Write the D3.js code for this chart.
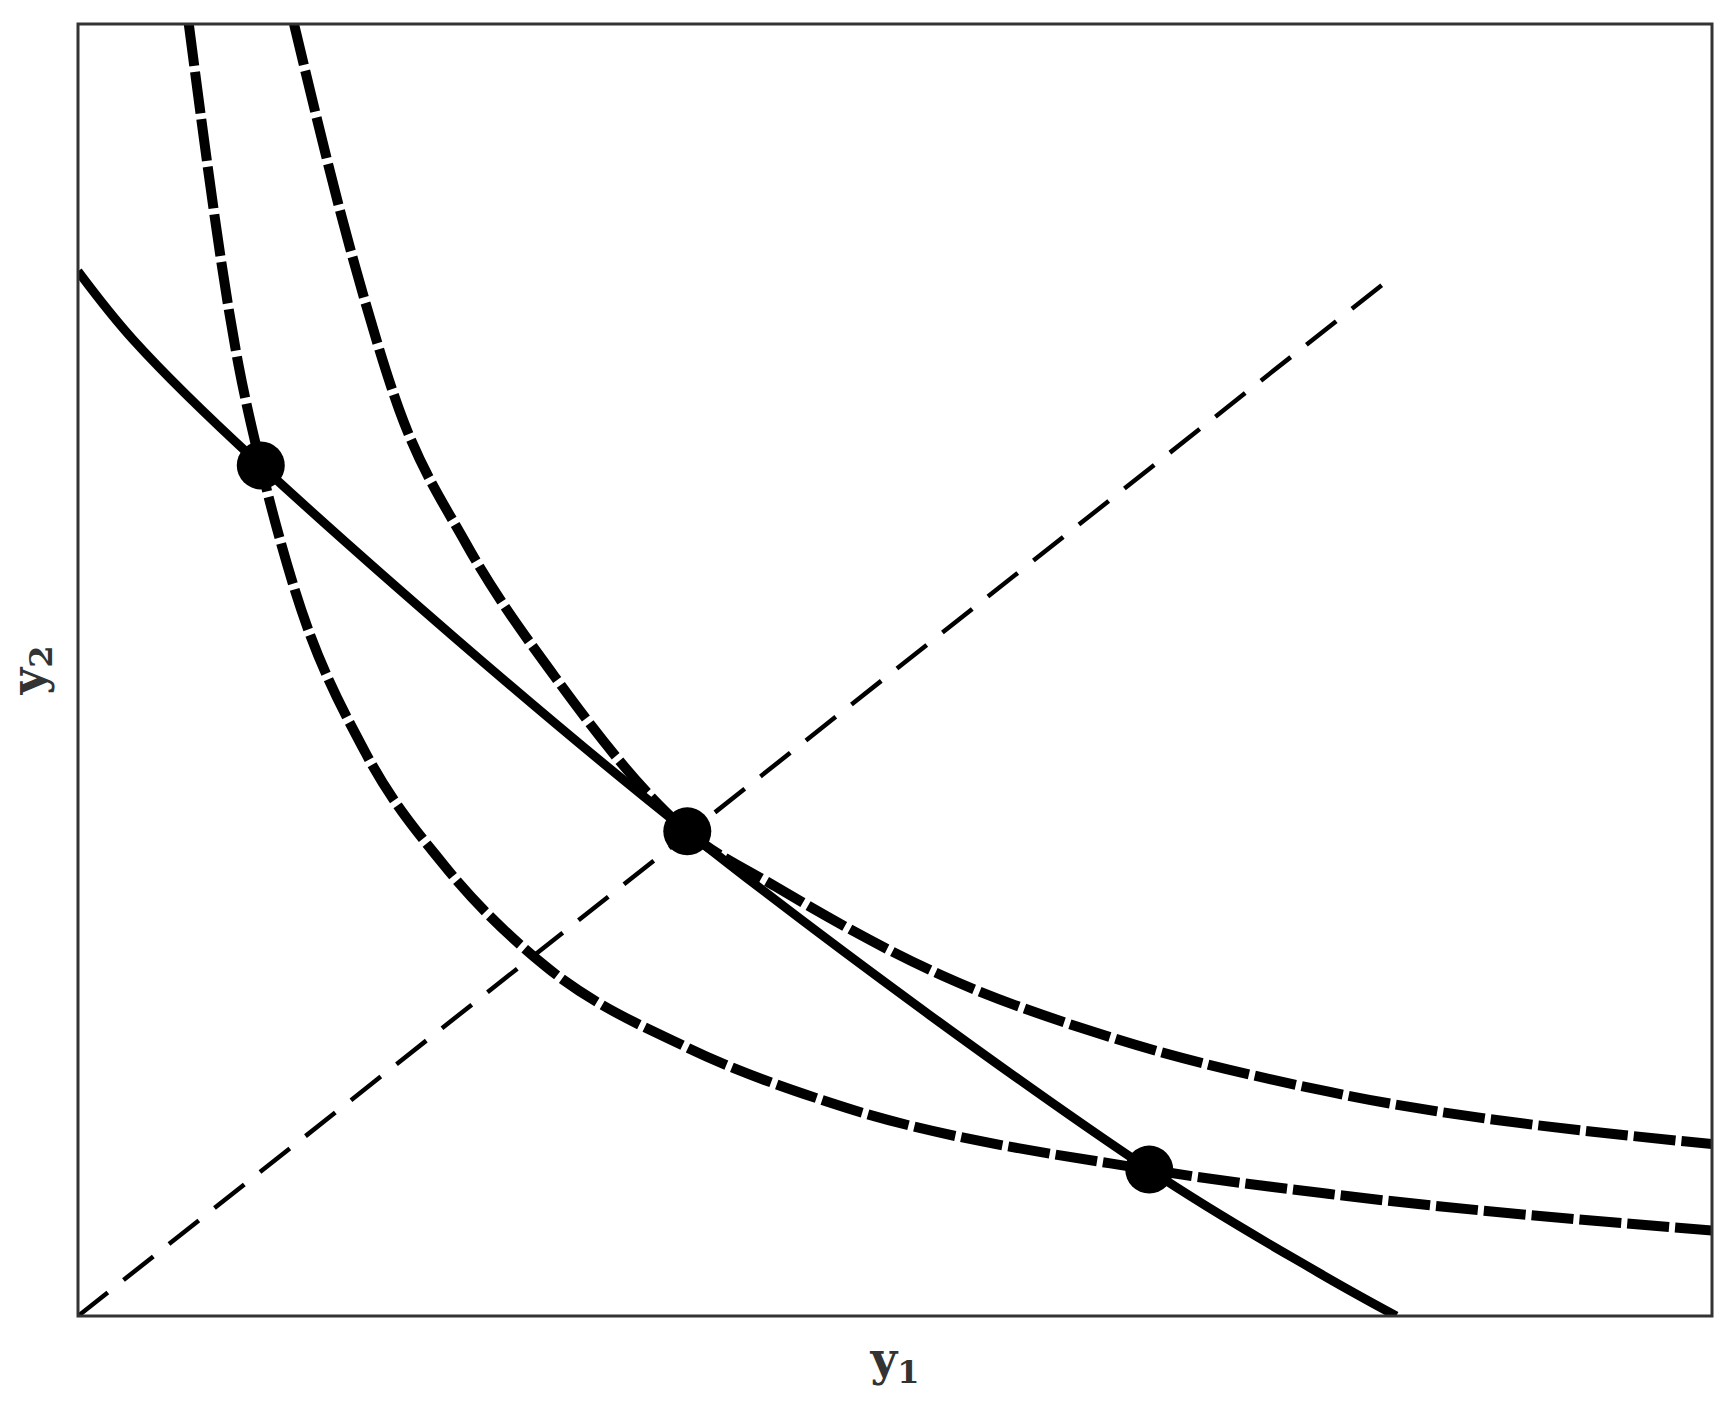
<!DOCTYPE html>
<html><head><meta charset="utf-8">
<script src="https://cdn.jsdelivr.net/npm/d3@7"></script>
<style>body{margin:0;background:#fff}</style>
</head><body>
<div id="chart"></div>
<script>
// curve samples (plot units)
const lowCurveX = [100, 145, 165, 195, 260, 330, 420, 550, 680, 967, 1130, 1475];
const lowCurveY = [1165, 857, 767, 657, 507, 407, 317, 242, 192, 132, 110, 77];
const highCurveX = [195, 250, 290, 350, 430, 550, 630, 780, 930, 1130, 1475];
const highCurveY = [1165, 947, 817, 697, 577, 437, 387, 307, 252, 202, 155];
const budgetX = [0, 50, 165, 550, 967, 1120, 1190];
const budgetY = [942, 880, 767, 437, 132, 39, 0];
const rayX = [0, 1180];
const rayY = [0, 932];
const dotX = [165, 550, 967];
const dotY = [767, 437, 132];

const W = 1732, H = 1402;
const m = {left: 78, top: 24, right: 1712, bottom: 1316};

const svg = d3.select("#chart").append("svg").attr("width", W).attr("height", H);

const x = d3.scaleLinear().domain([0, 1475]).range([m.left, m.right]);
const y = d3.scaleLinear().domain([0, 1165]).range([m.bottom, m.top]);

svg.append("clipPath").attr("id", "clip").append("rect")
  .attr("x", m.left).attr("y", m.top).attr("width", m.right - m.left).attr("height", m.bottom - m.top);

const g = svg.append("g").attr("clip-path", "url(#clip)");
const zip = (a, b) => a.map((v, i) => [v, b[i]]);
const line = d3.line().x(d => x(d[0])).y(d => y(d[1])).curve(d3.curveMonotoneX);
const straight = d3.line().x(d => x(d[0])).y(d => y(d[1])).curve(d3.curveCatmullRom.alpha(0.5));

g.append("path").attr("d", d3.line().x(d => x(d[0])).y(d => y(d[1]))(zip(rayX, rayY)))
  .attr("fill", "none").attr("stroke", "#000").attr("stroke-width", 4.5).attr("stroke-dasharray", "38,20");
g.append("path").attr("d", line(zip(lowCurveX, lowCurveY)))
  .attr("fill", "none").attr("stroke", "#000").attr("stroke-width", 10).attr("stroke-dasharray", "42,6");
g.append("path").attr("d", line(zip(highCurveX, highCurveY)))
  .attr("fill", "none").attr("stroke", "#000").attr("stroke-width", 10).attr("stroke-dasharray", "42,6");
g.append("path").attr("d", straight(zip(budgetX, budgetY)))
  .attr("fill", "none").attr("stroke", "#000").attr("stroke-width", 9);

g.selectAll("circle").data(zip(dotX, dotY)).enter().append("circle")
  .attr("cx", d => x(d[0])).attr("cy", d => y(d[1])).attr("r", 24).attr("fill", "#000");

svg.append("rect").attr("x", m.left).attr("y", m.top)
  .attr("width", m.right - m.left).attr("height", m.bottom - m.top)
  .attr("fill", "none").attr("stroke", "#333").attr("stroke-width", 3);

const xl = svg.append("text").attr("x", (m.left + m.right) / 2).attr("y", 1375)
  .attr("text-anchor", "middle").attr("font-family", "DejaVu Serif").attr("font-weight", "bold")
  .attr("font-size", 46).attr("fill", "#333");
xl.append("tspan").text("y");
xl.append("tspan").text("1").attr("font-size", 32).attr("dy", 8);

const yl = svg.append("text").attr("transform", `translate(44,${(m.top + m.bottom) / 2}) rotate(-90)`)
  .attr("text-anchor", "middle").attr("font-family", "DejaVu Serif").attr("font-weight", "bold")
  .attr("font-size", 46).attr("fill", "#333");
yl.append("tspan").text("y");
yl.append("tspan").text("2").attr("font-size", 32).attr("dy", 8);
</script>
</body></html>
